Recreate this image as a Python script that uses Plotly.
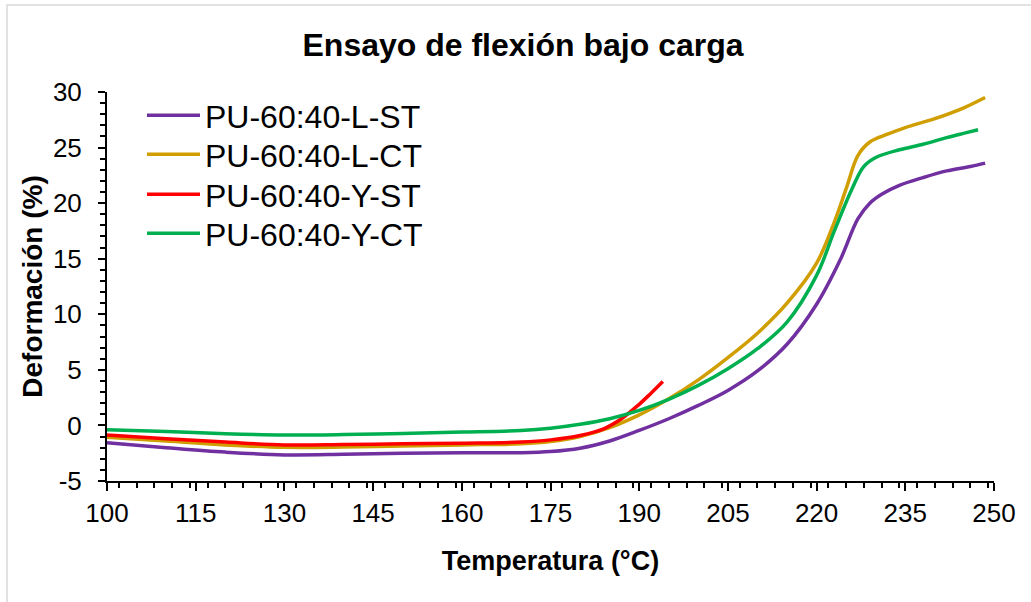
import plotly.graph_objects as go

# ---- data ----
x_l_st = [100, 110, 120, 130, 140, 150, 160, 170, 175, 180, 185, 190, 195, 200, 205, 210, 215, 220, 224, 227, 229, 231, 234, 238, 242, 246, 248.5]
y_l_st = [-1.55, -2.0, -2.4, -2.65, -2.6, -2.5, -2.45, -2.45, -2.35, -2.05, -1.4, -0.45, 0.6, 1.8, 3.15, 4.9, 7.3, 10.9, 14.9, 18.6, 20.0, 20.8, 21.6, 22.3, 22.9, 23.3, 23.6]

x_l_ct = [100, 110, 120, 130, 140, 150, 160, 170, 175, 180, 185, 190, 195, 200, 205, 210, 215, 220, 223, 225, 227, 229, 232, 235, 240, 245, 248.5]
y_l_ct = [-1.07, -1.4, -1.75, -1.97, -1.95, -1.85, -1.75, -1.65, -1.45, -1.0, -0.2, 0.95, 2.4, 4.1, 6.1, 8.3, 11.0, 14.6, 18.3, 21.3, 24.3, 25.5, 26.2, 26.8, 27.6, 28.6, 29.5]

x_y_st = [100, 110, 120, 130, 140, 150, 160, 170, 175, 180, 184, 187, 190, 192, 194]
y_y_st = [-0.85, -1.2, -1.5, -1.75, -1.72, -1.65, -1.6, -1.5, -1.3, -0.9, -0.3, 0.6, 1.9, 2.9, 3.95]

x_y_ct = [100, 110, 120, 130, 140, 150, 160, 170, 175, 180, 185, 190, 195, 200, 205, 210, 215, 220, 223, 226, 228, 230, 234, 238, 242, 245, 247.3]
y_y_ct = [-0.4, -0.55, -0.75, -0.86, -0.82, -0.72, -0.6, -0.45, -0.25, 0.1, 0.6, 1.35, 2.35, 3.6, 5.1, 6.9, 9.3, 13.5, 17.5, 21.3, 23.3, 24.1, 24.8, 25.3, 25.9, 26.3, 26.6]

series_names = ["PU-60:40-L-ST", "PU-60:40-L-CT", "PU-60:40-Y-ST", "PU-60:40-Y-CT"]
series_colors = ["#7030A0", "#D09E00", "#FF0000", "#00B050"]
series_x = [x_l_st, x_l_ct, x_y_st, x_y_ct]
series_y = [y_l_st, y_l_ct, y_y_st, y_y_ct]

x_ticks = [100, 115, 130, 145, 160, 175, 190, 205, 220, 235, 250]
y_ticks = [-5, 0, 5, 10, 15, 20, 25, 30]
y_tick_text = ["-5", "0", "5", "10", "15", "20", "25", "30"]

FONT = "Arial, 'Liberation Sans', sans-serif"

# legend rows: centre of each entry, in pixels from top
legend_rows_px = [116, 155, 195, 234]

fig = go.Figure()
legend_layout = {}
for i, (n, c, xs, ys) in enumerate(zip(series_names, series_colors, series_x, series_y)):
    lname = "legend" if i == 0 else f"legend{i + 1}"
    fig.add_trace(go.Scatter(
        x=xs, y=ys, name=n, mode="lines",
        line=dict(color=c, width=3.5, shape="spline", smoothing=1.0),
        legend=lname,
    ))
    legend_layout[lname] = dict(
        x=(142 - 107) / 887, y=(481 - (legend_rows_px[i] - 28)) / 389,
        xanchor="left", yanchor="top",
        font=dict(size=32, family=FONT, color="black"), bgcolor="rgba(0,0,0,0)",
        itemwidth=53,
    )

fig.update_layout(
    width=1031, height=602,
    margin=dict(l=107, r=37, t=92, b=121),
    paper_bgcolor="white", plot_bgcolor="white",
    font=dict(family=FONT, color="black"),
    title=dict(text="<b>Ensayo de flexión bajo carga</b>", font=dict(size=32, family=FONT, color="black"),
               x=523 / 1031, xanchor="center", xref="container",
               y=1 - 45 / 602, yanchor="middle", yref="container"),
    showlegend=True,
    xaxis=dict(range=[100, 250], tickvals=x_ticks, showgrid=False, zeroline=False,
               showline=True, linecolor="black", linewidth=2,
               ticks="outside", ticklen=8, tickwidth=2, tickcolor="black",
               tickfont=dict(size=26, family=FONT, color="black"),
               minor=dict(dtick=3, ticks="outside", ticklen=5, tickwidth=1.5, tickcolor="black", showgrid=False),
               title=dict(text="<b>Temperatura (°C)</b>", font=dict(size=27, family=FONT, color="black"), standoff=24)),
    yaxis=dict(range=[-5, 30], tickvals=y_ticks, ticktext=y_tick_text, showgrid=False, zeroline=False,
               showline=True, linecolor="black", linewidth=2,
               ticks="outside", ticklen=7, tickwidth=2, tickcolor="black",
               ticklabelstandoff=11,
               tickfont=dict(size=26, family=FONT, color="black"),
               minor=dict(dtick=1, ticks="outside", ticklen=5, tickwidth=1.5, tickcolor="black", showgrid=False),
               title=dict(text="<b>Deformación (%)</b>", font=dict(size=28, family=FONT, color="black"), standoff=2)),
    shapes=[dict(type="rect", xref="paper", yref="paper",
                 x0=(7 - 107) / 887, x1=(1045 - 107) / 887,
                 y0=(481 - 615) / 389, y1=(481 - 5) / 389,
                 line=dict(color="#D9D9D9", width=1.5), fillcolor="rgba(0,0,0,0)", layer="below")],
    **legend_layout,
)

fig.write_html("out.html")
